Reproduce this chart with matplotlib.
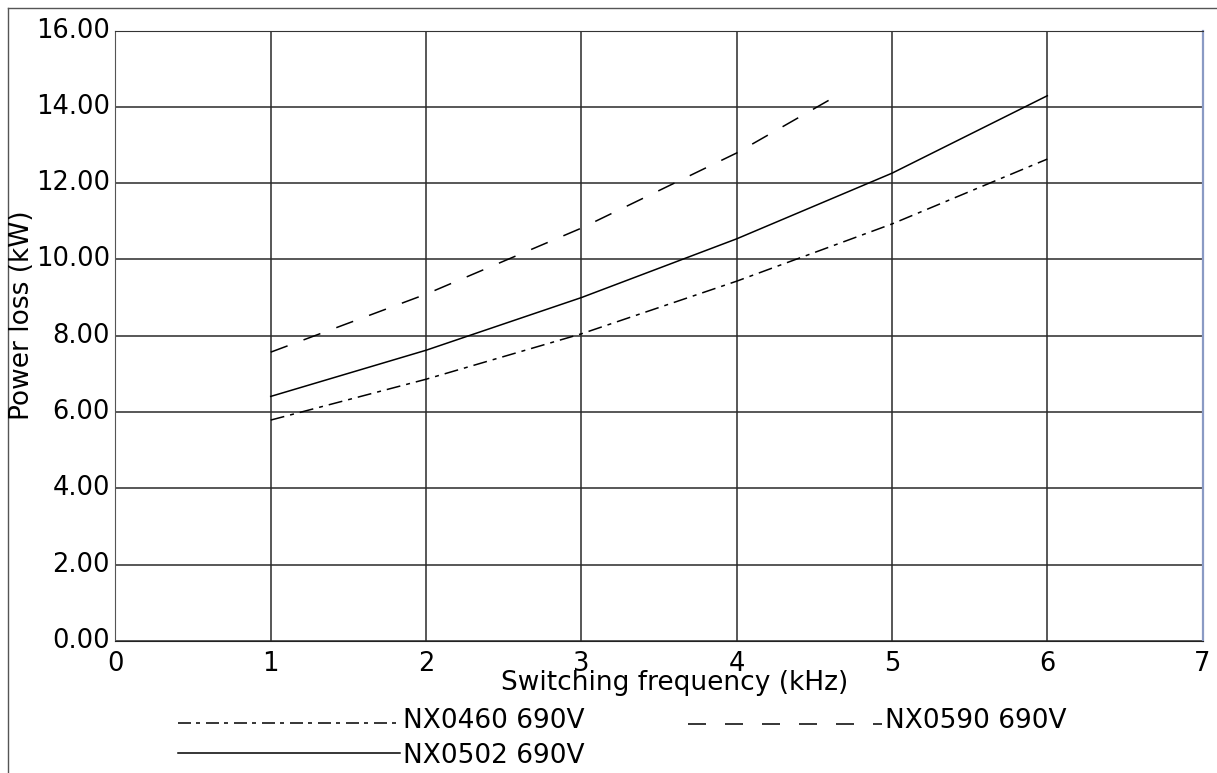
import matplotlib
matplotlib.use("Agg")
import matplotlib.pyplot as plt
from matplotlib.lines import Line2D
from matplotlib.ticker import FormatStrFormatter
from matplotlib.transforms import ScaledTranslation

freq_a = [1, 2, 3, 4, 5, 6]
nx0460 = [5.79, 6.86, 8.05, 9.43, 10.93, 12.63]
freq_b = [1, 2, 3, 4, 5, 6]
nx0502 = [6.41, 7.62, 9.00, 10.54, 12.26, 14.29]
freq_c = [1, 2, 3, 4, 4.61]
nx0590 = [7.57, 9.09, 10.82, 12.79, 14.21]

series_labels = ['NX0460 690V', 'NX0590 690V', 'NX0502 690V']
x_label = 'Switching frequency (kHz)'
y_label = 'Power loss (kW)'
xticks = [0, 1, 2, 3, 4, 5, 6, 7]
yticks = [0, 2, 4, 6, 8, 10, 12, 14, 16]

plt.rcParams['font.family'] = ['DejaVu Sans']
plt.rcParams['lines.scale_dashes'] = False
W, H = 1217, 773
PX = 72 / 100  # points per pixel
fig = plt.figure(figsize=(W / 100, H / 100), dpi=100)
x0, x1, y0, y1 = 115.4, 1202.6, 641.0, 30.5
ax = fig.add_axes([x0 / W, 1 - y0 / H, (x1 - x0) / W, (y0 - y1) / H])

dashdot = (14 * PX, 6 * PX, 4 * PX, 6 * PX)
dashed = (18 * PX, 17 * PX)
ax.plot(freq_a, nx0460, color='black', lw=1.1, dashes=dashdot)
ax.plot(freq_b, nx0502, color='black', lw=1.1)
ax.plot(freq_c, nx0590, color='black', lw=1.1, dashes=dashed)

ax.set_xlim(0, 7)
ax.set_ylim(0, 16)
ax.set_xticks(xticks)
ax.set_yticks(yticks)
ax.yaxis.set_major_formatter(FormatStrFormatter('%.2f'))
ax.tick_params(length=0, labelsize=18.5)
ax.tick_params(axis='x', pad=7)
ax.tick_params(axis='y', pad=4)
off = ScaledTranslation(0, 3 / 100, fig.dpi_scale_trans)
for lab in ax.get_yticklabels():
    lab.set_transform(lab.get_transform() + off)
ax.grid(True, color='#2a2a2a', lw=1.1)
ax.spines['left'].set_color('#555555')
ax.spines['top'].set_color('#333333')
ax.spines['bottom'].set_color('#222222')
ax.spines['right'].set_color('#8a9ac4')
ax.spines['right'].set_linewidth(1.6)

fig.text(674.5 / W, 1 - 690 / H, x_label, ha='center', va='baseline', fontsize=19)
fig.text(22 / W, 1 - 315 / H, y_label, ha='center', va='center', rotation=90, fontsize=19)

# legend
fig.add_artist(Line2D([178 / W, 398 / W], [1 - 723 / H] * 2, color='black', lw=1.1,
                      dashes=(13 * PX, 5 * PX, 4 * PX, 6 * PX)))
fig.text(403 / W, 1 - 728 / H, series_labels[0], ha='left', va='baseline', fontsize=19)
fig.add_artist(Line2D([688 / W, 882 / W], [1 - 724 / H] * 2, color='black', lw=1.1,
                      dashes=(18 * PX, 19 * PX)))
fig.text(885 / W, 1 - 728 / H, series_labels[1], ha='left', va='baseline', fontsize=19)
fig.add_artist(Line2D([178 / W, 400 / W], [1 - 753 / H] * 2, color='black', lw=1.1))
fig.text(403 / W, 1 - 763 / H, series_labels[2], ha='left', va='baseline', fontsize=19)

# outer border
fig.add_artist(Line2D([8 / W, 8 / W], [0, 1 - 8 / H], color='#555555', lw=1.0))
fig.add_artist(Line2D([8 / W, 1], [1 - 8 / H, 1 - 8 / H], color='#555555', lw=1.0))

fig.savefig('out.png', dpi=100)
